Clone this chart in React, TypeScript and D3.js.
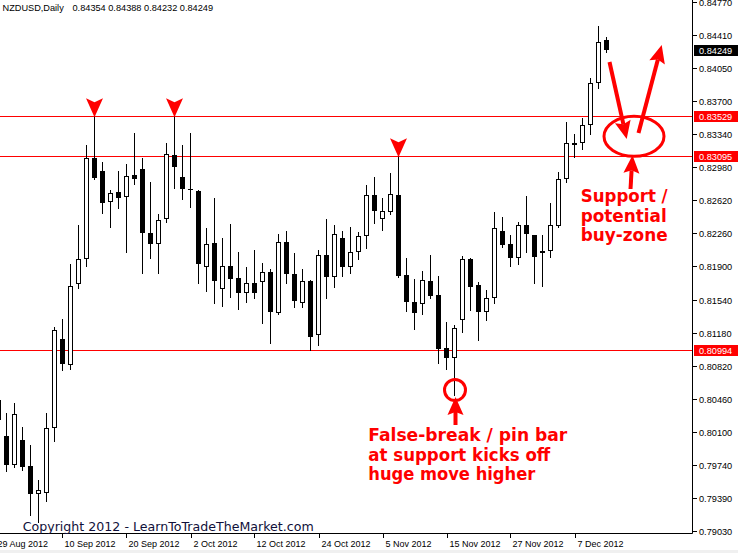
import React from 'react';
import * as d3 from 'd3';

const symbolTitle = 'NZDUSD,Daily';
const headerOHLC = '0.84354 0.84388 0.84232 0.84249';

// Daily bars, 29 Aug 2012 .. 13 Dec 2012 (weekdays)
const opens = [
  0.80449, 0.80058, 0.79743, 0.80015, 0.79732, 0.79428, 0.79439, 0.80145, 0.81111, 0.80829,
  0.81708, 0.81980, 0.83076, 0.82935, 0.82599, 0.82707, 0.82653, 0.82892, 0.82957, 0.82262,
  0.82143, 0.82414, 0.83109, 0.82870, 0.82740, 0.82718, 0.81893, 0.82153, 0.81654, 0.81904,
  0.81773, 0.81611, 0.81719, 0.81730, 0.81839, 0.81393, 0.82164, 0.81817, 0.81502, 0.81741,
  0.81155, 0.82023, 0.81784, 0.82208, 0.81893, 0.82056, 0.82229, 0.82675, 0.82414, 0.82490,
  0.82675, 0.81806, 0.81513, 0.81491, 0.81741, 0.81589, 0.81013, 0.80905, 0.81317, 0.81980,
  0.81697, 0.81404, 0.81556, 0.82284, 0.82143, 0.81991, 0.82349, 0.82240, 0.82045, 0.82067,
  0.82338, 0.82848, 0.83239, 0.83239, 0.83435, 0.83891, 0.84354,
];
const highs = [
  0.80503, 0.80308, 0.80416, 0.80156, 0.79960, 0.79580, 0.80308, 0.81241, 0.81328, 0.81925,
  0.82349, 0.83217, 0.83529, 0.83033, 0.82729, 0.82935, 0.83011, 0.83348, 0.83076, 0.82816,
  0.82468, 0.83239, 0.83529, 0.83217, 0.83348, 0.82729, 0.82316, 0.82642, 0.82208, 0.82360,
  0.82056, 0.81893, 0.82077, 0.81936, 0.81871, 0.82251, 0.82284, 0.82045, 0.81871, 0.81752,
  0.82077, 0.82414, 0.82349, 0.82284, 0.82327, 0.82273, 0.82783, 0.82870, 0.82642, 0.82913,
  0.83095, 0.81991, 0.81763, 0.81849, 0.82023, 0.81795, 0.81296, 0.81263, 0.82012, 0.81991,
  0.81730, 0.81643, 0.82490, 0.82436, 0.82240, 0.82381, 0.82664, 0.82245, 0.82240, 0.82588,
  0.82924, 0.83467, 0.83337, 0.83511, 0.83945, 0.84509, 0.84388,
];
const lows = [
  0.80123, 0.79678, 0.79721, 0.79689, 0.79200, 0.79124, 0.79352, 0.80004, 0.80775, 0.80785,
  0.81665, 0.81904, 0.82848, 0.82479, 0.82327, 0.82533, 0.82056, 0.82794, 0.81828, 0.81991,
  0.81828, 0.82381, 0.82751, 0.82631, 0.82544, 0.81719, 0.81632, 0.81502, 0.81469, 0.81567,
  0.81437, 0.81513, 0.81556, 0.81285, 0.81068, 0.81383, 0.81719, 0.81459, 0.81459, 0.80992,
  0.81046, 0.81556, 0.81676, 0.81795, 0.81828, 0.81980, 0.82099, 0.82371, 0.82295, 0.82468,
  0.81784, 0.81415, 0.81220, 0.81383, 0.81556, 0.80851, 0.80785, 0.80503, 0.81187, 0.81426,
  0.81100, 0.81317, 0.81502, 0.82110, 0.81904, 0.81925, 0.82056, 0.81719, 0.81687, 0.82001,
  0.82327, 0.82816, 0.83087, 0.83174, 0.83337, 0.83836, 0.84232,
];
const closes = [
  0.80232, 0.79743, 0.80297, 0.79721, 0.79428, 0.79472, 0.80145, 0.81209, 0.80840, 0.81687,
  0.81980, 0.83076, 0.82859, 0.82588, 0.82696, 0.82642, 0.82881, 0.82848, 0.82262, 0.82143,
  0.82403, 0.83120, 0.82979, 0.82740, 0.82738, 0.81925, 0.82143, 0.81741, 0.81904, 0.81763,
  0.81611, 0.81719, 0.81611, 0.81839, 0.81404, 0.82164, 0.81817, 0.81524, 0.81741, 0.81133,
  0.82023, 0.81784, 0.82251, 0.81893, 0.82056, 0.82229, 0.82675, 0.82501, 0.82501, 0.82685,
  0.81795, 0.81513, 0.81393, 0.81752, 0.81578, 0.81003, 0.80905, 0.81231, 0.81980, 0.81676,
  0.81404, 0.81556, 0.82316, 0.82132, 0.81991, 0.82349, 0.82251, 0.82001, 0.82067, 0.82349,
  0.82848, 0.83239, 0.83217, 0.83435, 0.83891, 0.84336, 0.84249,
];

const dateTickLabels = [
  '29 Aug 2012', '10 Sep 2012', '20 Sep 2012', '2 Oct 2012', '12 Oct 2012',
  '24 Oct 2012', '5 Nov 2012', '15 Nov 2012', '27 Nov 2012', '7 Dec 2012',
];
const priceTicks = [
  0.8477, 0.8441, 0.8405, 0.837, 0.8334, 0.8298, 0.8262, 0.8226, 0.819,
  0.8154, 0.8118, 0.8082, 0.8046, 0.801, 0.7974, 0.7939, 0.7903,
];
const levelLines = [0.83529, 0.83095, 0.80994];
const peakMarkerDates = ['14 Sep 2012', '28 Sep 2012', '7 Nov 2012'];
const pinBarDate = '16 Nov 2012';
const pinNote = ['False-break / pin bar', 'at support kicks off', 'huge move higher'];
const pinNoteWidths = [199, 182, 167];
const zoneNote = ['Support /', 'potential', 'buy-zone'];
const zoneNoteWidths = [87, 86, 87];
const copyright = 'Copyright 2012 - LearnToTradeTheMarket.com';

const W = 738;
const H = 553;
const RED = '#ff0000';
const AXF = 'Liberation Sans, Arial, sans-serif';
const ANF = 'DejaVu Sans, Verdana, sans-serif';

const fmt = d3.utcFormat('%-d %b %Y');
const days = d3.utcDay
  .range(new Date(Date.UTC(2012, 7, 29)), new Date(Date.UTC(2012, 11, 14)))
  .filter((d) => d.getUTCDay() !== 0 && d.getUTCDay() !== 6);
const dayLabels = days.map((d) => fmt(d));

const plotRight = 692.5;
const plotBottom = 533.5;

const x = d3.scaleLinear().domain([0, days.length - 1]).range([-1.5, 606.5]);
const y = d3.scaleLinear().domain([0.7903, 0.8477]).range([530.7, 2]);

function arrow(x1: number, y1: number, x2: number, y2: number, headLen = 18, headW = 16) {
  const dx = x2 - x1, dy = y2 - y1;
  const L = Math.hypot(dx, dy);
  const ux = dx / L, uy = dy / L;
  const px = -uy, py = ux;
  const bx = x2 - ux * headLen, by = y2 - uy * headLen;
  return (
    <g>
      <line x1={x1} y1={y1} x2={bx + ux * 3} y2={by + uy * 3} stroke={RED} strokeWidth={4} />
      <path
        d={`M${x2},${y2}L${bx + (px * headW) / 2},${by + (py * headW) / 2}L${bx + ux * 3},${by + uy * 3}L${bx - (px * headW) / 2},${by - (py * headW) / 2}Z`}
        fill={RED}
      />
    </g>
  );
}

export default function App() {
  const candles = opens.map((o, i) => {
    const cx = x(i);
    const yo = y(o), yc = y(closes[i]);
    const yh = Math.round(y(highs[i])), yl = Math.round(y(lows[i]));
    const top = Math.round(Math.min(yo, yc));
    const bot = Math.round(Math.max(yo, yc));
    const bull = closes[i] > o;
    return (
      <g key={i}>
        <line x1={cx} x2={cx} y1={yh} y2={yl + 1} stroke="#000" strokeWidth={1} />
        {bull && bot - top >= 2 ? (
          <rect x={cx - 2} y={top + 0.5} width={4} height={bot - top - 1} fill="#fff" stroke="#000" strokeWidth={1} />
        ) : (
          <rect x={cx - 2.5} y={top} width={5} height={Math.max(1, bot - top)} fill="#000" />
        )}
      </g>
    );
  });

  const peakIdx = peakMarkerDates.map((d) => dayLabels.indexOf(d));
  const pinIdx = dayLabels.indexOf(pinBarDate);
  const pinX = x(pinIdx);
  const pinLowY = y(lows[pinIdx]);
  const zoneTop = y(levelLines[0]);
  const zoneBot = y(levelLines[1]);
  const zoneCy = (zoneTop + zoneBot) / 2;
  const zoneRy = (zoneBot - zoneTop) / 2;
  const lastClose = closes[closes.length - 1];

  return (
    <svg width={W} height={H} style={{ position: 'absolute', left: 0, top: 0, background: '#fff' }}>
      <rect x={0} y={0} width={W} height={H} fill="#fff" />
      {/* level lines */}
      {levelLines.map((lv, i) => (
        <line key={i} x1={0} x2={plotRight} y1={Math.round(y(lv)) + 0.5} y2={Math.round(y(lv)) + 0.5} stroke={RED} strokeWidth={1} />
      ))}
      {candles}
      {/* peak markers */}
      {peakIdx.map((idx, i) => {
        const cx = x(idx);
        const tip = y(highs[idx]) + 1;
        const t = tip - 19;
        return <path key={i} d={`M${cx - 8.5},${t}L${cx},${t + 4}L${cx + 8.5},${t}L${cx},${tip}Z`} fill={RED} />;
      })}
      {/* frame */}
      <line x1={plotRight} x2={plotRight} y1={0} y2={plotBottom} stroke="#000" />
      <line x1={0} x2={plotRight} y1={plotBottom} y2={plotBottom} stroke="#000" />
      {/* price axis */}
      {priceTicks.map((p, i) => {
        const yy = Math.round(y(p)) + 0.5;
        return (
          <g key={i}>
            <line x1={plotRight} x2={697} y1={yy} y2={yy} stroke="#000" />
            <text x={699} y={yy} dy="0.35em" fontFamily={AXF} fontSize={9.2} fill="#000">
              {p.toFixed(5)}
            </text>
          </g>
        );
      })}
      {levelLines.map((lv, i) => {
        const yy = Math.round(y(lv));
        return (
          <g key={i}>
            <rect x={694} y={yy - 5} width={44} height={11} fill={RED} />
            <text x={699} y={yy + 0.5} dy="0.35em" fontFamily={AXF} fontSize={9.2} fill="#fff">
              {lv.toFixed(5)}
            </text>
          </g>
        );
      })}
      <g>
        <rect x={694} y={Math.round(y(lastClose)) - 5} width={44} height={11} fill="#000" />
        <text x={699} y={Math.round(y(lastClose)) + 0.5} dy="0.35em" fontFamily={AXF} fontSize={9.2} fill="#fff">
          {lastClose.toFixed(5)}
        </text>
      </g>
      {/* date axis */}
      {dateTickLabels.map((lab, i) => {
        const idx = dayLabels.indexOf(lab);
        const xx = Math.round(x(idx)) + 0.5;
        return (
          <g key={i}>
            <line x1={xx} x2={xx} y1={plotBottom} y2={538} stroke="#000" />
            <text x={i === 0 ? xx - 2 : xx + 2} y={547} fontFamily={AXF} fontSize={9} fill="#000">
              {lab}
            </text>
          </g>
        );
      })}
      <rect x={0} y={550} width={W} height={3} fill="#f0f0f0" />
      {/* header */}
      <text x={2.5} y={11} fontFamily={AXF} fontSize={9.2} fill="#000">{symbolTitle}</text>
      <text x={72.5} y={11} fontFamily={AXF} fontSize={9.2} fill="#000">{headerOHLC}</text>
      {/* copyright */}
      <text x={22.7} y={531} fontFamily={ANF} fontSize={12.6} fill="#10103a" textLength={291} lengthAdjust="spacingAndGlyphs">
        {copyright}
      </text>
      {/* annotations */}
      <circle cx={pinX + 0.5} cy={pinLowY - 5} r={10.5} fill="none" stroke={RED} strokeWidth={3} />
      {arrow(pinX + 1, 425, pinX + 1, pinLowY + 2)}
      {pinNote.map((t, i) => (
        <text key={i} x={368.3} y={441 + i * 19.5} fontFamily={ANF} fontWeight="bold" fontSize={18} fill={RED}
          textLength={pinNoteWidths[i]} lengthAdjust="spacingAndGlyphs">
          {t}
        </text>
      ))}
      <ellipse cx={634} cy={zoneCy} rx={30} ry={zoneRy} fill="none" stroke={RED} strokeWidth={3} />
      {arrow(609.5, 62, 626.7, 139)}
      {arrow(638.5, 133, 661.7, 45)}
      {arrow(630.5, 189, 632.5, zoneBot - 1)}
      {zoneNote.map((t, i) => (
        <text key={i} x={580.7} y={202 + i * 19.5} fontFamily={ANF} fontWeight="bold" fontSize={18} fill={RED}
          textLength={zoneNoteWidths[i]} lengthAdjust="spacingAndGlyphs">
          {t}
        </text>
      ))}
    </svg>
  );
}
